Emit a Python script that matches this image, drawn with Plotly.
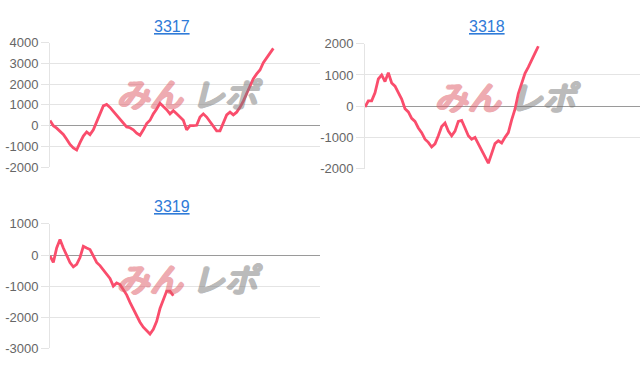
import plotly.graph_objects as go

W, H = 640, 372

# ---- data (cumulative difference, sampled at even game intervals) ----
titles = ["3317", "3318", "3319"]

vals_3317 = [250, 0, -120, -270, -420, -650, -900, -1070, -1170, -820,
             -500, -300, -430, -200, 180, 650, 950, 1020, 880, 690,
             500, 340, 120, -60, -100, -200, -360, -460, -200, 100,
             260, 570, 800, 1080, 920, 770, 570, 720, 570, 415,
             260, -200, 0, 0, 20, 415, 570, 415, 180, -50,
             -250, -250, 150, 520, 650, 520, 650, 880, 1180, 1540,
             1850, 2260, 2490, 2680, 3030, 3290, 3490, 3720]

vals_3318 = [-30, 170, 170, 430, 870, 1000, 790, 1070, 740, 640,
             430, 225, -80, -185, -390, -490, -700, -850, -1060, -1160,
             -1310, -1210, -950, -650, -540, -800, -950, -800, -490, -460,
             -700, -950, -1060, -1000, -1210, -1420, -1620, -1830, -1520, -1200,
             -1110, -1180, -1000, -850, -440, -100, 400, 760, 1050, 1250,
             1500, 1700, 1920]

vals_3319 = [-30, -240, 225, 500, 225, -30, -240, -380, -300, -80,
             280, 225, 175, -30, -240, -340, -490, -600, -750, -1000,
             -900, -950, -1110, -1280, -1520, -1750, -1950, -2160, -2320, -2440,
             -2540, -2390, -2130, -1720, -1410, -1160, -1160, -1310]

yticks_3317 = [-2000, -1000, 0, 1000, 2000, 3000, 4000]
yticks_3318 = [-2000, -1000, 0, 1000, 2000]
yticks_3319 = [-3000, -2000, -1000, 0, 1000]

x_span = [81, 82.5, 81]  # full day slots on the x axis

# ---- layout geometry (pixels) ----
panels = [
    dict(vals=vals_3317, ticks=yticks_3317, x0=50, x1=320, top=37, bot=167,
         title_xy=(172, 20), wm=(187, 90)),
    dict(vals=vals_3318, ticks=yticks_3318, x0=365, x1=640, top=38.3, bot=168.3,
         title_xy=(487, 20), wm=(505, 93)),
    dict(vals=vals_3319, ticks=yticks_3319, x0=50, x1=320, top=226, bot=355.7,
         title_xy=(172, 208), wm=(187, 282)),
]

fig = go.Figure()
line_color = "#fa4d6c"
grid = "#e4e4e4"


def bold_shadow(c):
    offs = [(1, 0), (2, 0), (0, 1), (1, 1), (2, 1), (-1, 0), (0, -1), (1, -1)]
    return ", ".join(f"{dx}px {dy}px 0px {c}" for dx, dy in offs)


for i, p in enumerate(panels):
    n = i + 1
    xa = "x" if n == 1 else f"x{n}"
    ya = "y" if n == 1 else f"y{n}"
    xs = list(range(len(p["vals"])))
    fig.add_trace(go.Scatter(x=xs, y=p["vals"], mode="lines",
                             line=dict(color=line_color, width=2.8),
                             xaxis=xa, yaxis=ya, hoverinfo="skip",
                             showlegend=False))
    xkey = "xaxis" if n == 1 else f"xaxis{n}"
    ykey = "yaxis" if n == 1 else f"yaxis{n}"
    fig.layout[xkey] = dict(domain=[p["x0"] / W, p["x1"] / W], anchor=ya,
                            range=[0, x_span[i]], showgrid=False,
                            showticklabels=False, zeroline=False,
                            showline=False, ticks="")
    fig.layout[ykey] = dict(domain=[(H - p["bot"]) / H, (H - p["top"]) / H],
                            anchor=xa, range=[p["ticks"][0], p["ticks"][-1]],
                            tickvals=p["ticks"],
                            ticktext=[str(v) for v in p["ticks"]],
                            showgrid=True, gridcolor=grid, gridwidth=1,
                            zeroline=True, zerolinecolor="#9a9a9a",
                            zerolinewidth=1, showline=True,
                            linecolor=grid, linewidth=1,
                            ticks="outside", ticklen=8, tickcolor=grid,
                            tickfont=dict(family="Liberation Sans, Arial",
                                          size=13, color="#666666"))
    # title
    tx, ty = p["title_xy"]
    fig.add_annotation(text="<u>" + titles[i] + "</u>", x=tx / W, y=1 - ty / H,
                       xref="paper", yref="paper", showarrow=False,
                       xanchor="center", yanchor="middle",
                       font=dict(family="Liberation Sans, Arial", size=16,
                                 color="#2f7bd8"))
    # watermark (two halves, pink and gray)
    wx, wy = p["wm"]
    for txt, col, dx in (("みん", "#de5a66", -38), ("レポ", "#7a7a7a", 39)):
        fig.add_annotation(
            text="<i>" + txt + "</i>",
            x=(wx + dx) / W, y=1 - wy / H, xref="paper", yref="paper",
            showarrow=False, xanchor="center", yanchor="middle", opacity=0.5,
            font=dict(family="Noto Sans CJK JP", size=33, color=col,
                      shadow=bold_shadow(col)))

fig.update_layout(width=W, height=H, margin=dict(l=0, r=0, t=0, b=0),
                  paper_bgcolor="white", plot_bgcolor="white")

fig.write_html("out.html")
